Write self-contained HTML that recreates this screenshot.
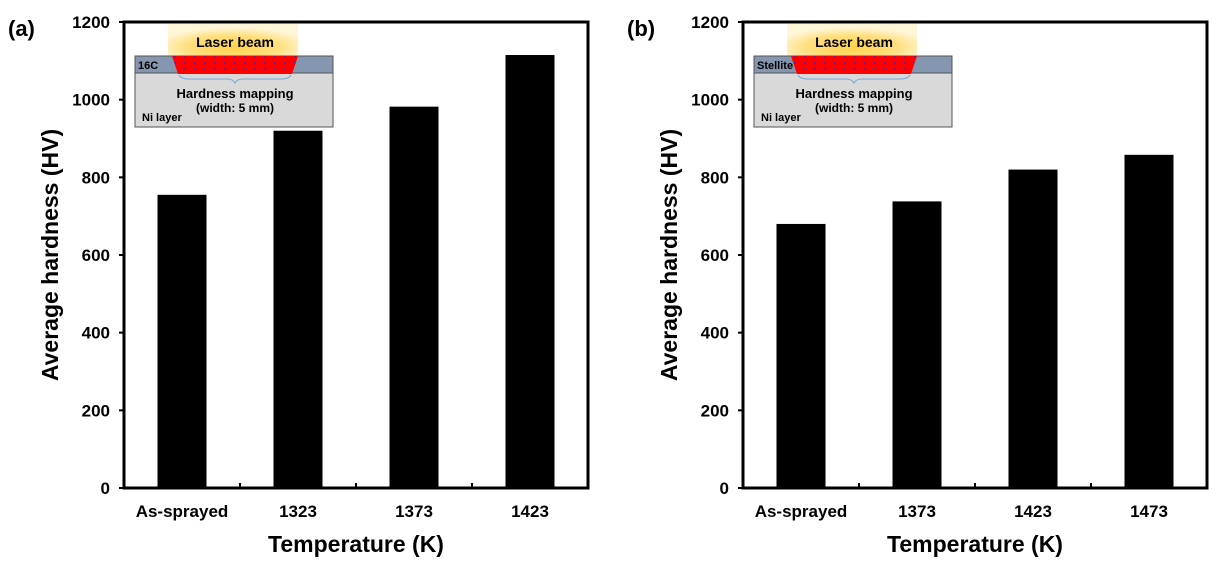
<!DOCTYPE html>
<html><head><meta charset="utf-8"><style>
body{margin:0;background:#fff;}
svg text{font-family:"Liberation Sans",Arial,sans-serif;font-weight:bold;}
</style></head><body>
<svg id="c" width="1218" height="563" xmlns="http://www.w3.org/2000/svg">
<defs>
<radialGradient id="glow" cx="50%" cy="70%" r="60%"><stop offset="0" stop-color="#ffd24a"/><stop offset="0.6" stop-color="#ffe080"/><stop offset="1" stop-color="#fff6d8"/></radialGradient>
<pattern id="dots" width="10" height="6" patternUnits="userSpaceOnUse"><rect width="10" height="6" fill="#ff0000"/><circle cx="5" cy="3" r="1" fill="#3030c0"/></pattern>
</defs>
</svg>
<script>
const catsA=["As-sprayed","1323","1373","1423"];
const valsA=[755,920,982,1115];
const catsB=["As-sprayed","1373","1423","1473"];
const valsB=[680,738,820,858];
const yTicks=[0,200,400,600,800,1000,1200];
const svg=document.getElementById('c');
const NS='http://www.w3.org/2000/svg';
function mk(t,a,txt){const e=document.createElementNS(NS,t);for(const k in a)e.setAttribute(k,a[k]);if(txt!==undefined)e.textContent=txt;svg.appendChild(e);return e;}
function panel(ox,cats,vals,label,layerName,prefix){
  const L=124+ox,R=588+ox,T=22,B=488;
  const y=v=>B-v/1200*(B-T);
  const bw=(R-L)/cats.length;
  const x=i=>L+bw*(i+0.5);
  let e=mk('rect',{x:L,y:T,width:R-L,height:B-T,fill:'none',stroke:'#000','stroke-width':3});
  
  
  yTicks.forEach(v=>{
    e=mk('line',{x1:L-5,x2:L,y1:y(v),y2:y(v),stroke:'#000','stroke-width':2});
    
    
    e=mk('text',{x:L-14,y:y(v)+6,'text-anchor':'end','font-size':17},v);
    
    
  });
  for(let i=1;i<cats.length;i++){
    e=mk('line',{x1:L+bw*i,x2:L+bw*i,y1:B,y2:B-5,stroke:'#000','stroke-width':2});
    
    
  }
  cats.forEach((c,i)=>{
    e=mk('rect',{x:x(i)-24.5,y:y(vals[i]),width:49,height:B-y(vals[i]),fill:'#000'});
    
    
    e=mk('text',{x:x(i),y:517,'text-anchor':'middle','font-size':17},c);
    
    
  });
  e=mk('text',{x:(L+R)/2,y:552,'text-anchor':'middle','font-size':23},'Temperature (K)');
  
  
  e=mk('text',{x:0,y:0,'text-anchor':'middle','font-size':23,transform:`translate(${58+ox},255) rotate(-90)`},'Average hardness (HV)');
  
  
  e=mk('text',{x:8+ox,y:36,'font-size':22},label);
  
  
  const ix=135+ox;
  e=mk('rect',{x:ix+33,y:24,width:130,height:33,fill:'url(#glow)'});
  
  
  e=mk('rect',{x:ix,y:73,width:198,height:54,fill:'#d9d9d9',stroke:'#555','stroke-width':1});
  
  
  e=mk('rect',{x:ix,y:56,width:198,height:17,fill:'#8496b0',stroke:'#555','stroke-width':1});
  
  
  e=mk('polygon',{points:`${ix+37},56 ${ix+163},56 ${ix+157},74 ${ix+43},74`,fill:'url(#dots)'});
  
  
  e=mk('path',{d:`M${ix+44},75 q2,4 10,4 h38 q6,0 8,4 q2,-4 8,-4 h38 q8,0 10,-4`,fill:'none',stroke:'#7aa8d8','stroke-width':1});
  
  
  e=mk('text',{x:ix+100,y:47,'text-anchor':'middle','font-size':14},'Laser beam');
  
  
  e=mk('text',{x:ix+3,y:69,'font-size':11},layerName);
  
  
  e=mk('text',{x:ix+100,y:98,'text-anchor':'middle','font-size':13},'Hardness mapping');
  
  
  e=mk('text',{x:ix+100,y:112,'text-anchor':'middle','font-size':12},'(width: 5 mm)');
  
  
  e=mk('text',{x:ix+7,y:121,'font-size':11},'Ni layer');
  
  
}
panel(0,catsA,valsA,'(a)','16C','panel-a');
panel(619,catsB,valsB,'(b)','Stellite','panel-b');
</script>
</body></html>
